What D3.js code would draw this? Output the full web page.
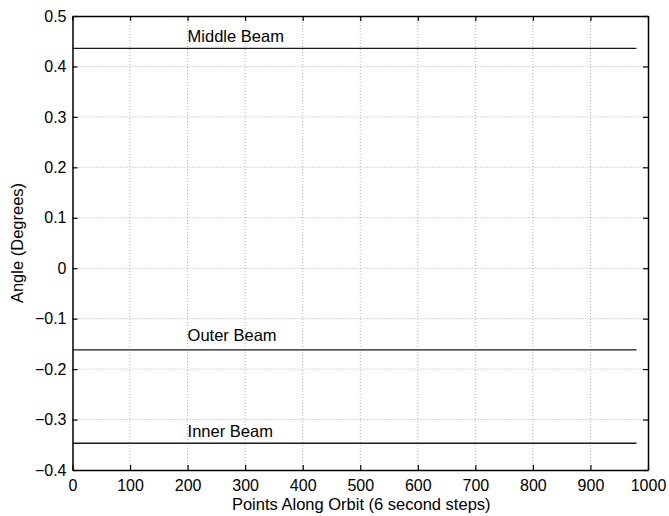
<!DOCTYPE html>
<html><head><meta charset="utf-8">
<script src="https://cdn.jsdelivr.net/npm/d3@7"></script>
<style>body{margin:0;background:#fff;} svg{display:block;font-family:"Liberation Sans",Arial,sans-serif;}</style>
</head><body>
<svg id="c" width="669" height="516"></svg>
<script>
const xTicks = [0,100,200,300,400,500,600,700,800,900,1000];
const yTicks = [-0.4,-0.3,-0.2,-0.1,0,0.1,0.2,0.3,0.4,0.5];
const seriesNames = ["Middle Beam","Outer Beam","Inner Beam"];
const seriesX = [0, 980];
const middleBeam = [0.436, 0.436];
const outerBeam = [-0.162, -0.162];
const innerBeam = [-0.347, -0.347];
const labelX = [200, 200, 200];
const labelY = [0.449, -0.1443, -0.334];

const FS = "16px";
const svg = d3.select("#c");
const m = {l:72.5, r:648, t:16, b:470};
const x = d3.scaleLinear().domain([0,1000]).range([m.l,m.r]);
const y = d3.scaleLinear().domain([-0.4,0.5]).range([m.b,m.t]);
const fmt = d => d===0 ? "0" : (d<0 ? "\u2212"+Math.abs(d).toFixed(1) : d.toFixed(1));

// grid
const g = svg.append("g");
g.selectAll(".gx").data(xTicks.slice(1,-1)).join("line")
 .attr("x1",d=>x(d)).attr("x2",d=>x(d)).attr("y1",m.t).attr("y2",m.b)
 .attr("stroke","#9a9a9a").attr("stroke-width",0.8).attr("stroke-dasharray","1,2");
g.selectAll(".gy").data(yTicks.slice(1,-1)).join("line")
 .attr("y1",d=>y(d)).attr("y2",d=>y(d)).attr("x1",m.l).attr("x2",m.r)
 .attr("stroke","#9a9a9a").attr("stroke-width",0.8).attr("stroke-dasharray","1,2");

// axes
const ax = d3.axisBottom(x).tickValues(xTicks).tickSizeInner(-5).tickSizeOuter(0).tickPadding(10).tickFormat(d=>d);
const ay = d3.axisLeft(y).tickValues(yTicks).tickSizeInner(-5).tickSizeOuter(0).tickPadding(6).tickFormat(fmt);
const axT = d3.axisTop(x).tickValues(xTicks).tickSizeInner(-5).tickSizeOuter(0).tickFormat("");
const ayR = d3.axisRight(y).tickValues(yTicks).tickSizeInner(-5).tickSizeOuter(0).tickFormat("");
function style(sel){
  sel.selectAll("path").attr("stroke","#000").attr("stroke-width",1.5);
  sel.selectAll("line").attr("stroke","#000").attr("stroke-width",1.2);
  sel.selectAll("text").attr("fill","#000").style("font-size",FS).style("font-family","'Liberation Sans',Arial,sans-serif");
}
svg.append("g").attr("transform",`translate(0,${m.b})`).call(ax).call(style);
svg.append("g").attr("transform",`translate(${m.l},0)`).call(ay).call(style);
svg.append("g").attr("transform",`translate(0,${m.t})`).call(axT).call(style);
svg.append("g").attr("transform",`translate(${m.r},0)`).call(ayR).call(style);

// series
const series = [middleBeam, outerBeam, innerBeam];
const line = d3.line().x((d,i)=>x(seriesX[i])).y(d=>y(d));
series.forEach((s,k)=>{
  svg.append("path").datum(s).attr("d",line).attr("fill","none").attr("stroke","#1a1a1a").attr("stroke-width",1.3);
  svg.append("text").attr("x",x(labelX[k])).attr("y",y(labelY[k]))
    .text(seriesNames[k]).style("font-size","16.5px").attr("fill","#000");
});

// titles
svg.append("text").attr("x",(m.l+m.r)/2 + 1).attr("y",509.5).attr("text-anchor","middle")
  .text("Points Along Orbit (6 second steps)").style("font-size","16.5px");
svg.append("text").attr("transform",`translate(23,${(m.t+m.b)/2}) rotate(-90)`).attr("text-anchor","middle")
  .text("Angle (Degrees)").style("font-size","16.5px");
</script>
</body></html>
